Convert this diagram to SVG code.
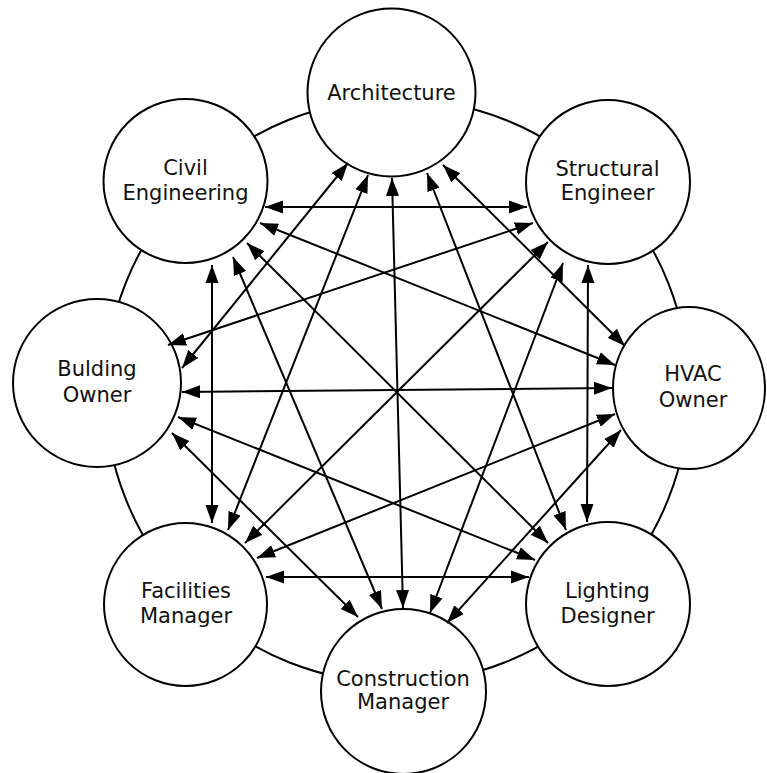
<svg xmlns="http://www.w3.org/2000/svg" width="767" height="773" viewBox="0 0 767 773">
  <style>
    .ring { fill: none; stroke: #000; stroke-width: 2; }
    .node { fill: #fff; stroke: #000; stroke-width: 2; }
    .label { font-family: "DejaVu Sans", Verdana, sans-serif; font-size: 21px; fill: #111; text-anchor: middle; }
    .link { stroke: #000; stroke-width: 2; fill: none; marker-start: url(#head); marker-end: url(#head); }
  </style>
  <defs>
    <marker id="head" markerUnits="userSpaceOnUse" markerWidth="19" markerHeight="14" refX="18" refY="7" orient="auto-start-reverse">
      <path d="M0,0.5 L18,7 L0,13.5 Z" fill="#000"/>
    </marker>
  </defs>
  <rect width="767" height="773" fill="#fff"/>

  <!-- outer ring joining neighbouring nodes -->
  <circle class="ring" cx="397" cy="391" r="292"/>

  <!-- nodes -->
  <g id="architecture">
    <circle class="node" cx="391.5" cy="92.5" r="84"/>
    <text class="label" x="391.5" y="99.5">Architecture</text>
  </g>
  <g id="structural-engineer">
    <circle class="node" cx="608" cy="182" r="82"/>
    <text class="label" x="607.5" y="176">Structural</text>
    <text class="label" x="607.5" y="200">Engineer</text>
  </g>
  <g id="hvac-owner">
    <ellipse class="node" cx="689" cy="388" rx="76" ry="81"/>
    <text class="label" x="693" y="381">HVAC</text>
    <text class="label" x="693" y="406.5">Owner</text>
  </g>
  <g id="lighting-designer">
    <circle class="node" cx="608" cy="604" r="82"/>
    <text class="label" x="607.5" y="598">Lighting</text>
    <text class="label" x="607.5" y="622.5">Designer</text>
  </g>
  <g id="construction-manager">
    <circle class="node" cx="403.5" cy="691.5" r="82.5"/>
    <text class="label" x="403" y="686">Construction</text>
    <text class="label" x="403" y="709">Manager</text>
  </g>
  <g id="facilities-manager">
    <circle class="node" cx="185.5" cy="604.5" r="81.5"/>
    <text class="label" x="186" y="598">Facilities</text>
    <text class="label" x="186" y="622.5">Manager</text>
  </g>
  <g id="building-owner">
    <circle class="node" cx="97" cy="383" r="84"/>
    <text class="label" x="97" y="376">Bulding</text>
    <text class="label" x="97" y="401.5">Owner</text>
  </g>
  <g id="civil-engineering">
    <circle class="node" cx="185.5" cy="181" r="82"/>
    <text class="label" x="185.5" y="175">Civil</text>
    <text class="label" x="185.5" y="200">Engineering</text>
  </g>

  <!-- two-way links between non-neighbouring nodes -->
  <g id="connectors">
    <line class="link" x1="348" y1="163" x2="182" y2="368"/>
    <line class="link" x1="368" y1="175" x2="228" y2="530"/>
    <line class="link" x1="392" y1="178" x2="403" y2="608"/>
    <line class="link" x1="427" y1="173" x2="566" y2="530"/>
    <line class="link" x1="443" y1="165" x2="625" y2="346"/>

    <line class="link" x1="265" y1="207" x2="527" y2="207"/>
    <line class="link" x1="260" y1="223" x2="615" y2="365"/>
    <line class="link" x1="247" y1="243" x2="548" y2="543"/>
    <line class="link" x1="233" y1="257" x2="382" y2="609"/>
    <line class="link" x1="212" y1="265" x2="212" y2="523"/>

    <line class="link" x1="533" y1="223" x2="168" y2="345"/>
    <line class="link" x1="548" y1="242" x2="245" y2="543"/>
    <line class="link" x1="563" y1="263" x2="430" y2="613"/>
    <line class="link" x1="588" y1="265" x2="587" y2="522"/>

    <line class="link" x1="612" y1="388" x2="182" y2="392"/>
    <line class="link" x1="615" y1="414" x2="257" y2="558"/>
    <line class="link" x1="621" y1="430" x2="447" y2="623"/>

    <line class="link" x1="535" y1="560" x2="178" y2="417"/>
    <line class="link" x1="529" y1="577" x2="266" y2="577"/>

    <line class="link" x1="358" y1="617" x2="172" y2="433"/>
  </g>
</svg>
